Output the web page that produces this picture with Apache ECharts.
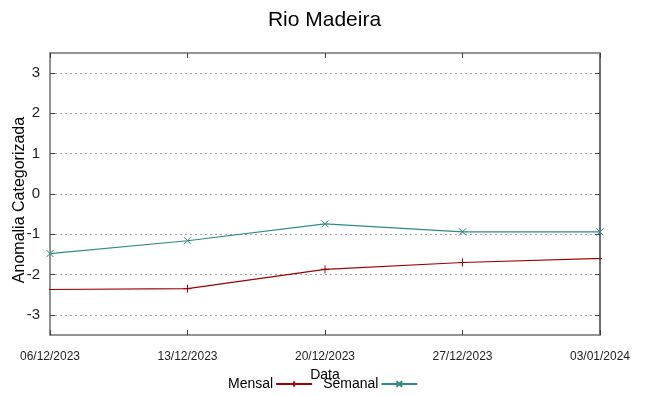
<!DOCTYPE html>
<html>
<head>
<meta charset="utf-8">
<script src="https://cdn.jsdelivr.net/npm/echarts@6/dist/echarts.min.js"></script>
<style>html,body{margin:0;padding:0;background:#fff}#c{width:649px;height:396px}</style>
</head>
<body>
<div id="c"></div>
<script>
var tickLabels = ['06/12/2023','13/12/2023','20/12/2023','27/12/2023','03/01/2024'];
var semanalDates = ['06/12/2023','13/12/2023','20/12/2023','27/12/2023','03/01/2024'];
var semanalValues = [-1.48,-1.16,-0.74,-0.94,-0.94];
var mensalDates = ['29/11/2023','13/12/2023','20/12/2023','27/12/2023','10/01/2024'];
var mensalValues = [-2.39,-2.35,-1.87,-1.70,-1.50];
var yTicks = [-3,-2,-1,0,1,2,3];

function dayOf(s){var p=s.split('/');return Date.UTC(+p[2],+p[1]-1,+p[0])/86400000;}
var d0 = dayOf(tickLabels[0]);
var dMax = dayOf(tickLabels[tickLabels.length-1]) - d0;
function pairs(ds,vs){return ds.map(function(d,i){return [dayOf(d)-d0, vs[i]];});}

var RED='#a00000', TEAL='#2f8a8a';
var FONT='"Liberation Sans", Arial, sans-serif';
var plus='path://M0,-1L0,1M-1,0L1,0';
var cross='path://M-1,-1L1,1M-1,1L1,-1';

var chart = echarts.init(document.getElementById('c'));
chart.setOption({
  animation:false,
  backgroundColor:'#fff',
  textStyle:{fontFamily:FONT},
  title:{text:'Rio Madeira',left:'center',top:5,textStyle:{fontSize:21,fontWeight:'normal',color:'#000',fontFamily:FONT}},
  legend:{left:223,top:372,align:'right',itemWidth:36,itemHeight:7,itemGap:10,
    textStyle:{fontSize:14,color:'#000',fontFamily:FONT,padding:[0,-2,0,0]},
    data:['Mensal','Semanal']},
  grid:[
    {left:50,right:49,top:53,bottom:61,containLabel:false},
    {left:50,right:49,top:73,bottom:81,containLabel:false}
  ],
  xAxis:[
    {type:'value',gridIndex:0,min:0,max:dMax,interval:7,position:'bottom',
      name:'Data',nameLocation:'middle',nameGap:25,nameTextStyle:{fontSize:14,color:'#000'},
      axisLine:{show:true,onZero:false,lineStyle:{color:'#707070',width:1.5}},
      axisTick:{show:true,inside:true,length:5,lineStyle:{color:'#404040',width:1}},
      axisLabel:{margin:16,fontSize:12,color:'#222',formatter:function(v){return tickLabels[Math.round(v/7)];}},
      splitLine:{show:false}},
    {type:'value',gridIndex:0,min:0,max:dMax,interval:7,position:'top',
      axisLine:{show:true,onZero:false,lineStyle:{color:'#707070',width:1.5}},
      axisTick:{show:true,inside:true,length:5,lineStyle:{color:'#404040',width:1}},
      axisLabel:{show:false},splitLine:{show:false}},
    {type:'value',gridIndex:1,min:0,max:dMax,show:false}
  ],
  yAxis:[
    {type:'value',gridIndex:0,min:-3.5,max:3.5,position:'left',
      name:'Anomalia Categorizada',nameLocation:'middle',nameGap:22,
      nameTextStyle:{fontSize:16,color:'#000',padding:[0,12,0,0]},
      axisLine:{show:true,onZero:false,lineStyle:{color:'#707070',width:1.5}},
      axisTick:{show:false},axisLabel:{show:false},splitLine:{show:false}},
    {type:'value',gridIndex:0,min:-3.5,max:3.5,position:'right',
      axisLine:{show:true,onZero:false,lineStyle:{color:'#404040',width:1.5}},
      axisTick:{show:false},axisLabel:{show:false},splitLine:{show:false}},
    {type:'value',gridIndex:1,min:yTicks[0],max:yTicks[yTicks.length-1],interval:1,position:'left',
      axisLine:{show:false,onZero:false},
      axisTick:{show:true,inside:true,length:5,lineStyle:{color:'#404040',width:1}},
      axisLabel:{margin:10,fontSize:15,color:'#222'},
      splitLine:{show:true,lineStyle:{color:'#a0a0a0',type:[2,3],width:1}}},
    {type:'value',gridIndex:1,min:yTicks[0],max:yTicks[yTicks.length-1],interval:1,position:'right',
      axisLine:{show:false,onZero:false},
      axisTick:{show:true,inside:true,length:5,lineStyle:{color:'#404040',width:1}},
      axisLabel:{show:false},splitLine:{show:false}}
  ],
  series:[
    {name:'Mensal',type:'line',xAxisIndex:0,yAxisIndex:0,data:pairs(mensalDates,mensalValues),
      clip:true,symbol:plus,symbolSize:8,showAllSymbol:true,
      lineStyle:{color:RED,width:1.2},
      itemStyle:{color:RED,borderColor:RED,borderWidth:1}},
    {name:'Semanal',type:'line',xAxisIndex:0,yAxisIndex:0,data:pairs(semanalDates,semanalValues),
      clip:true,symbol:cross,symbolSize:7,showAllSymbol:true,
      lineStyle:{color:TEAL,width:1.2},
      itemStyle:{color:TEAL,borderColor:TEAL,borderWidth:1}},
    {type:'line',xAxisIndex:2,yAxisIndex:2,data:[],silent:true}
  ]
});
</script>
</body>
</html>
